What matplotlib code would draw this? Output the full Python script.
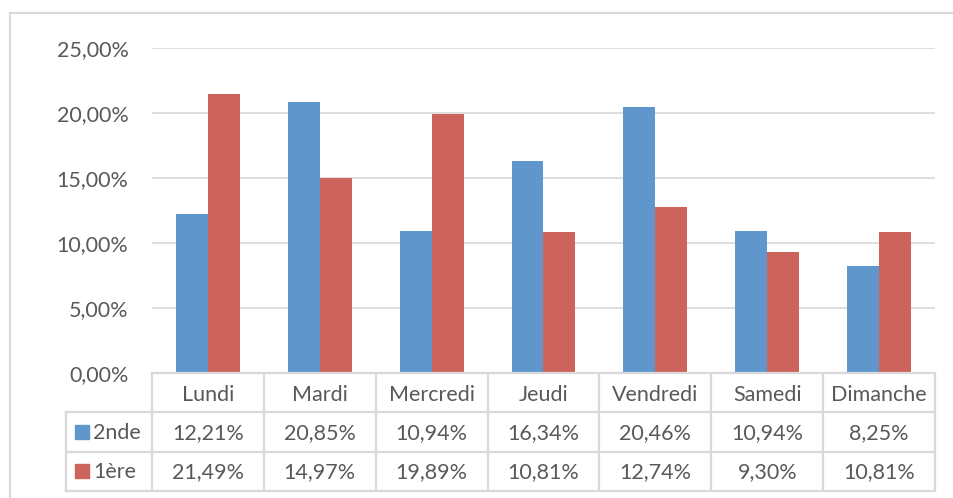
import matplotlib
matplotlib.use("Agg")
import matplotlib.pyplot as plt
from matplotlib.lines import Line2D
from matplotlib.patches import Rectangle
import numpy as np

categories = ["Lundi", "Mardi", "Mercredi", "Jeudi", "Vendredi", "Samedi", "Dimanche"]
series_names = ["2nde", "1ère"]
seconde = [12.21, 20.85, 10.94, 16.34, 20.46, 10.94, 8.25]
premiere = [21.49, 14.97, 19.89, 10.81, 12.74, 9.30, 10.81]
yticks = [0, 5, 10, 15, 20, 25]

colors = ["#5F97CD", "#CD645B"]
grid_c = "#D9D9D9"
text_c = "#595959"
plt.rcParams['font.family'] = ['Lato', 'DejaVu Sans']
FS = 15.5

W, H = 954, 498
fig = plt.figure(figsize=(W / 100, H / 100), dpi=100)

def px_box(x0, y0, x1, y1):
    return [x0 / W, 1 - y1 / H, (x1 - x0) / W, (y1 - y0) / H]

# outer chart border (cropped at right and bottom)
fig.add_artist(Line2D([10 / W, 1], [1 - 13.5 / H] * 2, color=grid_c, lw=1.5, transform=fig.transFigure))
fig.add_artist(Line2D([10 / W] * 2, [0, 1 - 13.5 / H], color=grid_c, lw=1.5, transform=fig.transFigure))

X0, X1, Y0, Y1 = 152, 935, 48, 373
ax = fig.add_axes(px_box(X0, Y0, X1, Y1))
x = np.arange(len(categories))
bw = 1 / 3.5
ax.bar(x - bw / 2, seconde, width=bw, color=colors[0], zorder=3)
ax.bar(x + bw / 2, premiere, width=bw, color=colors[1], zorder=3)
ax.set_xlim(-0.5, len(categories) - 0.5)
ax.set_ylim(0, 25)
ax.set_yticks(yticks)
ax.set_yticklabels([f"{v:.2f}%".replace(".", ",") for v in yticks], color=text_c, fontsize=FS)
ax.tick_params(axis='y', length=0, pad=17)
ax.set_xticks([])
for v in yticks:
    ax.axhline(v, color=grid_c, lw=1.2, zorder=1)
for s in ax.spines.values():
    s.set_visible(False)
ax.patch.set_alpha(0)

# data table
TL, TB = 66, 491
axt = fig.add_axes(px_box(TL, Y1, X1, TB))
px_per = (X1 - X0) / len(categories)
left = -0.5 - (X0 - TL) / px_per
axt.set_xlim(left, len(categories) - 0.5)
axt.set_ylim(3, 0)
axt.axis('off')
lw = 1.6
axt.plot([-0.5, len(categories) - 0.5], [0, 0], color=grid_c, lw=lw, clip_on=False)
for r in [1, 2, 3]:
    axt.plot([left, len(categories) - 0.5], [r, r], color=grid_c, lw=lw, clip_on=False)
axt.plot([left, left], [1, 3], color=grid_c, lw=lw, clip_on=False)
for i in range(len(categories) + 1):
    axt.plot([i - 0.5, i - 0.5], [0, 3], color=grid_c, lw=lw, clip_on=False)

for i, c in enumerate(categories):
    axt.text(i, 0.57, c, ha='center', va='center', color=text_c, fontsize=FS)
for r, (name, vals, col) in enumerate(zip(series_names, [seconde, premiere], colors), start=1):
    for i, v in enumerate(vals):
        axt.text(i, r + 0.52, f"{v:.2f}%".replace(".", ","), ha='center', va='center', color=text_c, fontsize=FS)
    sq_w = 14 / px_per
    axt.add_patch(Rectangle((left + 9 / px_per, r + 0.5 - 0.18), sq_w, 0.36, color=col, clip_on=False))
    axt.text(left + 27 / px_per, r + 0.52, name, ha='left', va='center', color=text_c, fontsize=FS)

fig.savefig("out.png", dpi=100, facecolor="white")
